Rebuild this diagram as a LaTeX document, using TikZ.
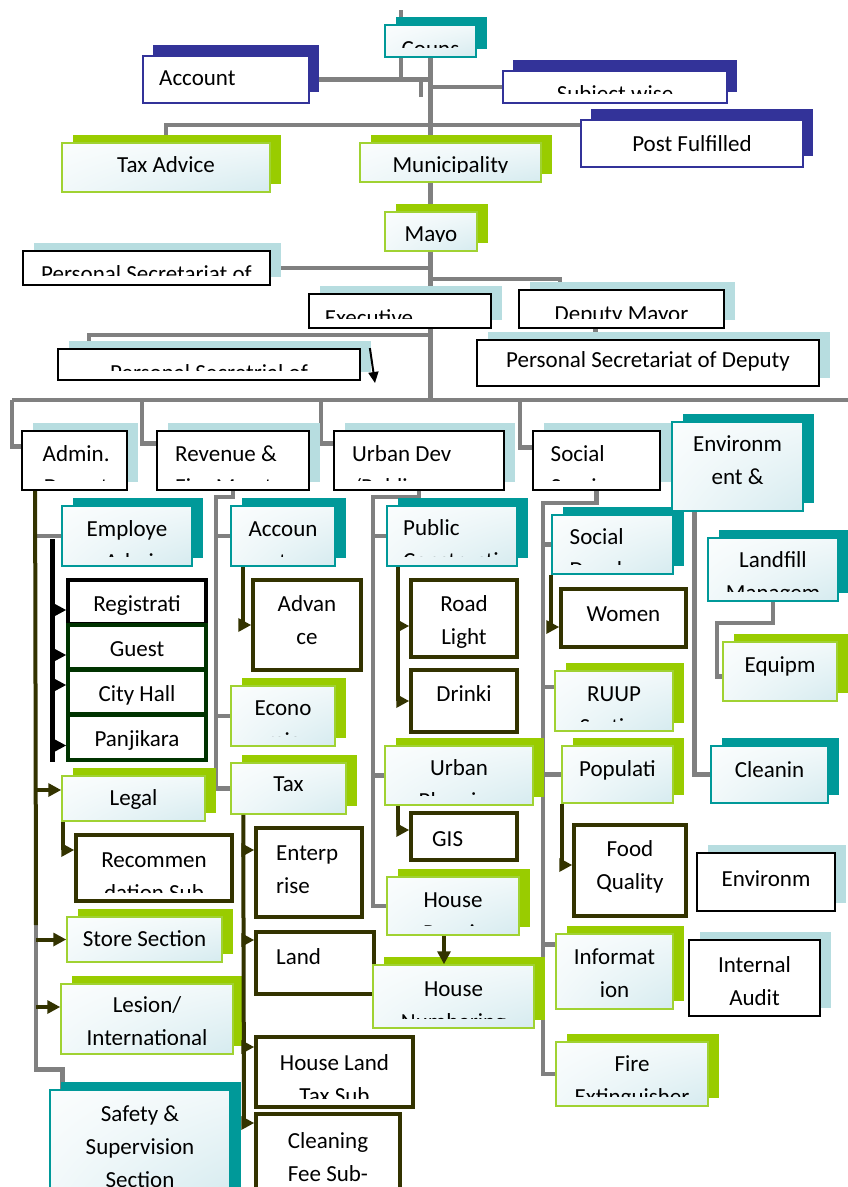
\documentclass[tikz,border=0pt]{standalone}
\usepackage{fontspec}
\setmainfont{Carlito}
\usetikzlibrary{calc,fit,arrows.meta}
\definecolor{tealc}{RGB}{0,153,153}
\definecolor{limec}{RGB}{153,204,0}
\definecolor{limeb}{RGB}{160,210,50}
\definecolor{navyc}{RGB}{51,51,153}
\definecolor{paleblue}{RGB}{183,221,224}
\definecolor{olivec}{RGB}{51,51,0}
\definecolor{dgreen}{RGB}{0,51,0}
\definecolor{grayc}{RGB}{128,128,128}
% white at left and bottom, pale blue toward the top right corner (y axis is flipped)
\pgfdeclarefunctionalshading{cornerblue}{\pgfpoint{0bp}{0bp}}{\pgfpoint{100bp}{100bp}}{}{
  100 div 1 exch sub exch 100 div mul
  dup 0.29 mul 1 exch sub
  exch dup 0.14 mul 1 exch sub
  exch 0.11 mul 1 exch sub
}
\pgfdeclarelayer{lines}
\pgfdeclarelayer{shades}
\pgfsetlayers{lines,shades,main}
\tikzset{
  tealbox/.style={draw=tealc,line width=1.5pt,shade,shading=cornerblue,inner sep=0pt},
  greenbox/.style={draw=limeb,line width=1.5pt,shade,shading=cornerblue,inner sep=0pt},
  navybox/.style={draw=navyc,line width=1.5pt,fill=white,inner sep=0pt},
  plainbox/.style={draw=black,line width=1.8pt,fill=white,inner sep=0pt},
  olivebox/.style={draw=olivec,line width=3.5pt,fill=white,inner sep=0pt},
  regbox/.style={draw=black,line width=3.5pt,fill=white,inner sep=0pt},
  dgbox/.style={draw=dgreen,line width=3.5pt,fill=white,inner sep=0pt},
  boxtext/.style={anchor=base,inner sep=0pt,font=\fontsize{23}{33}\selectfont},
  conn/.style={draw=grayc,line width=4.5pt},
  oliveline/.style={draw=olivec,line width=4pt},
  olivetip/.style={oliveline,-{Triangle[length=13pt,width=13pt]}},
  blackline/.style={draw=black,line width=5pt},
  blacktip/.style={draw=black,line width=3pt,-{Triangle[length=13pt,width=13pt]}}
}
% box without shadow: name, style, corner, corner, text options, text
\newcommand\flatbox[6]{%
  \node[#2,fit={(#3) (#4)}] (#1) {};
  \begin{scope}
    \clip ($(#1.south west)+(2,-10)$) rectangle ($(#1.north east)+(-2,2)$);
    \node[boxtext,#5] (#1-t) at (#1.north) {\begin{tabular}[t]{@{}c@{}}#6\end{tabular}};
  \end{scope}}
% box with shadow: name, style, shadow, corner, corner, text options, text
\newcommand\orgbox[7]{%
  \begin{pgfonlayer}{shades}
    \fill[#3] ($(#4)+(11,-8)$) rectangle ($(#5)+(11,-8)$);
  \end{pgfonlayer}
  \flatbox{#1}{#2}{#4}{#5}{#6}{#7}}

\begin{document}
\begin{tikzpicture}[x=1pt,y=-1pt]
\useasboundingbox (0,0) rectangle (848,1187);

% top part
\orgbox{couns}{tealbox}{tealc}{385,25}{476,57}{yshift=-32pt}{Couns}
\orgbox{account}{navybox}{navyc,shift={(-1,-3)}}{143,56}{309,103}{anchor=base west,xshift=-67pt,yshift=-30pt}{Account}
\orgbox{subject}{navybox}{navyc,shift={(-1,-3)}}{503,71}{727,103}{yshift=-31pt}{Subject wise}
\orgbox{post}{navybox}{navyc,shift={(-1,-3)}}{581,120}{803,167}{yshift=-32pt}{Post Fulfilled}
\orgbox{taxadv}{greenbox}{limec}{62,143}{270,192}{yshift=-30pt}{Tax Advice}
\orgbox{munic}{greenbox}{limec}{360,143}{541,182}{yshift=-30pt}{Municipality}
\orgbox{mayor}{greenbox}{limec}{385,212}{477,251}{yshift=-30pt}{Mayo}
\orgbox{psmayor}{plainbox}{paleblue}{23,251}{270,285}{yshift=-31pt}{Personal Secretariat of}
\orgbox{exec}{plainbox}{paleblue}{309,294}{491,328}{xshift=-31pt,yshift=-32pt}{Executive}
\orgbox{deputy}{plainbox}{paleblue}{519,290}{724,328}{yshift=-32pt}{Deputy Mayor}
\orgbox{psdeputy}{plainbox}{paleblue}{477,340}{819,386}{yshift=-28pt}{Personal Secretariat of Deputy}
\orgbox{pssec}{plainbox}{paleblue}{58,349}{360,380}{yshift=-32pt}{Personal Secretrial of}

% departments
\orgbox{admin}{plainbox}{paleblue}{22,431}{127,490}{anchor=base west,xshift=-32pt,yshift=-31pt}{Admin.\\Depart}
\orgbox{revenue}{plainbox}{paleblue}{157,431}{309,490}{anchor=base west,xshift=-58pt,yshift=-31pt}{Revenue \&\\\multicolumn{1}{@{}l@{}}{Fin. Mgmt}}
\orgbox{urban}{plainbox}{paleblue}{334,431}{504,490}{anchor=base west,xshift=-67pt,yshift=-31pt}{Urban Dev\\\multicolumn{1}{@{}l@{}}{/Public}}
\orgbox{social}{plainbox}{paleblue}{533,431}{660,490}{anchor=base west,xshift=-46pt,yshift=-31pt}{\multicolumn{1}{@{}l@{}}{Social}\\Service}
\orgbox{envir}{tealbox}{tealc}{672,422}{803,511}{yshift=-30pt}{Environm\\ent \&\\Waste}

% admin column
\orgbox{employee}{tealbox}{tealc}{62,506}{192,566}{yshift=-31pt}{Employe\\e Admin}
\flatbox{reg}{regbox}{68,580}{206,624}{yshift=-33pt}{Registrati}
\flatbox{guest}{dgbox}{68,625}{206,669}{yshift=-33pt}{Guest}
\flatbox{city}{dgbox}{68,670}{206,714}{yshift=-33pt}{City Hall}
\flatbox{panj}{dgbox}{68,715}{206,760}{yshift=-33pt}{Panjikara}
\orgbox{legal}{greenbox}{limec}{62,776}{205,821}{yshift=-30pt}{Legal}
\flatbox{rec}{olivebox}{76,835}{232,901}{yshift=-34pt}{Recommen\\dation Sub}
\orgbox{store}{greenbox}{limec}{67,917}{222,962}{yshift=-30pt}{Store Section}
\orgbox{lesion}{greenbox}{limec}{61,984}{233,1054}{yshift=-29pt}{Lesion/\\International}
\orgbox{safety}{tealbox}{tealc}{50,1090}{230,1200}{yshift=-32pt}{Safety \&\\Supervision\\Section}

% revenue column
\orgbox{acct}{tealbox}{tealc}{231,506}{335,566}{yshift=-31pt}{Accoun\\t}
\flatbox{adv}{olivebox}{253,580}{361,670}{yshift=-33pt}{Advan\\ce}
\orgbox{econ}{greenbox}{limec}{231,686}{335,746}{yshift=-30pt}{Econo\\mic}
\orgbox{tax}{greenbox}{limec}{231,763}{346,814}{yshift=-29pt}{Tax}
\flatbox{ent}{olivebox}{256,828}{362,917}{anchor=base west,xshift=-33pt,yshift=-34pt}{Enterp\\\multicolumn{1}{@{}l@{}}{rise}}
\flatbox{land}{olivebox}{256,932}{374,994}{anchor=base west,xshift=-39pt,yshift=-34pt}{Land}
\flatbox{hlt}{olivebox}{256,1037}{413,1107}{yshift=-35pt}{House Land\\Tax Sub}
\flatbox{cfee}{olivebox}{256,1114}{400,1200}{yshift=-36pt}{Cleaning\\Fee Sub-}

% urban column
\orgbox{pubc}{tealbox}{tealc}{387,506}{517,566}{anchor=base west,xshift=-49pt,yshift=-30pt}{\multicolumn{1}{@{}l@{}}{Public}\\Constructi}
\flatbox{road}{olivebox}{411,580}{517,657}{yshift=-33pt}{Road\\Light}
\flatbox{drinki}{olivebox}{411,670}{517,732}{yshift=-33pt}{Drinki}
\orgbox{uplan}{greenbox}{limec}{385,746}{533,805}{yshift=-30pt}{Urban\\Planning}
\flatbox{gis}{olivebox}{411,813}{517,860}{anchor=base west,xshift=-32pt,yshift=-35pt}{GIS}
\orgbox{hrep}{greenbox}{limec}{387,877}{519,935}{yshift=-31pt}{House\\Repair}
\orgbox{hnum}{greenbox}{limec}{373,965}{534,1028}{yshift=-32pt}{House\\Numbering}

% social column
\orgbox{socdev}{tealbox}{tealc}{552,515}{673,574}{anchor=base west,xshift=-43pt,yshift=-30pt}{\multicolumn{1}{@{}l@{}}{Social}\\Develop}
\flatbox{women}{olivebox}{561,589}{686,647}{yshift=-34pt}{Women}
\orgbox{ruup}{greenbox}{limec}{555,671}{673,731}{yshift=-31pt}{RUUP\\Section}
\orgbox{popu}{greenbox}{limec}{562,746}{673,803}{yshift=-31pt}{Populati\\on}
\flatbox{food}{olivebox}{574,825}{686,916}{yshift=-33pt}{Food\\Quality}
\orgbox{info}{greenbox}{limec}{556,934}{673,1009}{yshift=-31pt}{Informat\\ion}
\orgbox{fire}{greenbox}{limec}{556,1042}{708,1106}{yshift=-30pt}{Fire\\Extinguisher}

% environment column
\orgbox{landfill}{tealbox}{tealc}{708,538}{838,601}{yshift=-30pt}{Landfill\\Managem}
\orgbox{equip}{greenbox}{limec}{723,642}{837,701}{yshift=-31pt}{Equipm}
\orgbox{clean}{tealbox}{tealc}{711,746}{828,803}{yshift=-32pt}{Cleanin}
\orgbox{envbot}{plainbox}{paleblue}{697,853}{835,911}{yshift=-34pt}{Environm}
\orgbox{audit}{plainbox}{paleblue}{689,940}{820,1016}{yshift=-33pt}{Internal\\Audit}

% gray connectors
\coordinate (topin) at (401,10);
\coordinate (stub) at (421,97);
\coordinate (busL) at (12,400);
\coordinate (busR) at (848,400);
\coordinate (tapR) at (142,400);
\coordinate (tapU) at (321,400);
\coordinate (tapS) at (520,400);
\coordinate (dj) at ([yshift=10pt]deputy.north west);
\coordinate (ej) at (430,335);
\coordinate (adm1) at (36,925);
\coordinate (rv1) at (216,497);
\coordinate (ub1) at (373,497);
\coordinate (sc1) at (543,503);
\coordinate (lf1) at (717,623);
\begin{pgfonlayer}{lines}
  \draw[conn] (topin) |- (account.east);
  \draw[conn] (stub) -- (stub |- account.east);
  \draw[conn] (account.east) -- (account.east -| couns.south);
  \draw[conn] (subject.west) -- (subject.west -| couns.south);
  \draw[conn] (couns.south) -- (couns.south |- busL);
  \draw[conn] (taxadv.north) |- ([yshift=18.5pt]post.west);
  \draw[conn] (psmayor.east) -- (psmayor.east -| couns.south);
  \draw[conn] (dj -| couns.south) -| ([xshift=42pt]deputy.north west);
  \draw[conn] ([xshift=-26pt]deputy.south) -- ([xshift=-52.5pt]psdeputy.north);
  \draw[conn] (ej) -| ([xshift=-120pt]pssec.north);
  \draw[conn] (busL) -- (busR);
  \draw[conn] (busL) |- ([yshift=14pt]admin.west);
  \draw[conn] (tapR) |- ([yshift=17pt]revenue.west);
  \draw[conn] (tapU) |- ([yshift=17pt]urban.west);
  \draw[conn] (tapS) |- ([yshift=13pt]social.west);
  \draw[conn] (adm1) |- ([xshift=13pt,yshift=20pt]safety.north west) -- ([xshift=13pt]safety.north west);
  \draw[conn] (employee.west -| adm1) -- (employee.west);
  \draw[conn] (revenue.south) |- (rv1) |- (tax.west);
  \draw[conn] (acct.west -| rv1) -- (acct.west);
  \draw[conn] (econ.west -| rv1) -- (econ.west);
  \draw[conn] (urban.south) |- (ub1) |- (hrep.west);
  \draw[conn] (pubc.west -| ub1) -- (pubc.west);
  \draw[conn] (uplan.west -| ub1) -- (uplan.west);
  \draw[conn] (social.south) |- (sc1) |- (fire.west);
  \draw[conn] (socdev.west -| sc1) -- (socdev.west);
  \draw[conn] ($(sc1 |- ruup.west)+(0,-14)$) -- ($(ruup.west)+(0,-14)$);
  \draw[conn] (popu.west -| sc1) -- (popu.west);
  \draw[conn] ($(sc1 |- info.west)+(0,-27)$) -- ($(info.west)+(0,-27)$);
  \draw[conn] ([xshift=23pt]envir.south west) |- (clean.west);
  \draw[conn] (landfill.south) |- (lf1) |- ([yshift=-5pt]equip.west);
\end{pgfonlayer}

% arrows
\coordinate (psend) at (375,383);
\draw[-{Triangle[length=11pt,width=10pt]},line width=2pt] ([xshift=9pt]pssec.north east) -- (psend);
\draw[oliveline] ([xshift=14pt]admin.south west) -- (adm1);
\foreach \b/\d in {legal/-8.5,store/0,lesion/-12}
  \draw[olivetip] ($(adm1 |- \b.west)+(0,\d)$) -- ($(\b.west)+(0,\d)$);
\draw[olivetip] ([xshift=2pt]legal.south west) |- ([yshift=18pt]rec.west);
\coordinate (blk1) at (52,539);
\draw[blackline] (blk1) -- (blk1 |- panj.south);
\foreach \b/\d in {reg/8,guest/8,city/-7,panj/8}
  \draw[blacktip] ($(blk1 |- \b.west)+(0,\d)$) -- ($(\b.west)+(0,\d)$);
\draw[olivetip] ([xshift=13pt]acct.south west) |- (adv.west);
\coordinate (rvend) at (244,1127);
\draw[oliveline] ([xshift=13pt]tax.south west) -- (rvend);
\foreach \b/\d in {ent/-22.5,land/-23,hlt/-25,cfee/-34}
  \draw[olivetip] ($(rvend |- \b.west)+(0,\d)$) -- ($(\b.west)+(0,\d)$);
\coordinate (ubo) at ([xshift=12pt]pubc.south west);
\draw[olivetip] (ubo) |- (drinki.west);
\draw[olivetip] ($(ubo |- road.west)+(0,7.5)$) -- ($(road.west)+(0,7.5)$);
\draw[olivetip] ([xshift=14pt]uplan.south west) |- ([yshift=6.5pt]gis.west);
\draw[olivetip] ([xshift=-9pt]hrep.south) -- ([xshift=-9.5pt]hnum.north);
\draw[olivetip] (socdev.south west) |- ([yshift=-9pt]women.west);
\draw[olivetip] ([xshift=1pt]popu.south west) |- ([yshift=5.5pt]food.west);
\end{tikzpicture}
\end{document}
